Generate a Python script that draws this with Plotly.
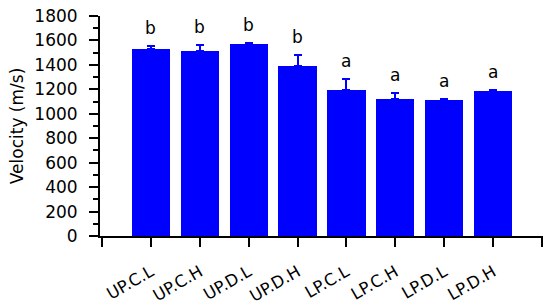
import plotly.graph_objects as go

groups = ['UP.C.L', 'UP.C.H', 'UP.D.L', 'UP.D.H', 'LP.C.L', 'LP.C.H', 'LP.D.L', 'LP.D.H']
velocity = [1530, 1514, 1571, 1394, 1197, 1121, 1115, 1184]
velocity_sd = [25, 51, 9, 87, 90, 47, 9, 13]
letters = ['b', 'b', 'b', 'b', 'a', 'a', 'a', 'a']

FONT = 'DejaVu Sans, sans-serif'
BLUE = '#0000FF'

positions = list(range(len(groups)))

fig = go.Figure()
fig.add_trace(go.Bar(
    x=positions,
    y=velocity,
    width=0.78,
    marker_color=BLUE,
    marker_line_width=0,
    error_y=dict(type='data', array=velocity_sd, symmetric=False,
                 arrayminus=[0] * len(groups),
                 color=BLUE, thickness=2, width=4),
    showlegend=False,
))

for x, v, sd, letter in zip(positions, velocity, velocity_sd, letters):
    fig.add_annotation(x=x, y=v + sd, text=letter, showarrow=False,
                       yanchor='bottom', yshift=6,
                       font=dict(family=FONT, size=17, color='black'))

fig.update_layout(
    width=550, height=306,
    margin=dict(l=100, r=7, t=16, b=70),
    paper_bgcolor='white', plot_bgcolor='white',
    font=dict(family=FONT, color='black'),
    bargap=0,
)
fig.update_xaxes(
    range=[-1.04, 8.02],
    tickvals=[-1] + positions + [8],
    ticktext=[''] + groups + [''],
    tickangle=-30,
    ticks='outside', ticklen=9, tickwidth=2, tickcolor='black',
    showline=True, linewidth=2, linecolor='black',
    showgrid=False, zeroline=False,
    tickfont=dict(size=16.5),
    ticklabelstandoff=9,
    automargin=False,
)
fig.update_yaxes(
    range=[0, 1800],
    tick0=0, dtick=200,
    ticks='outside', ticklen=9, tickwidth=2, tickcolor='black',
    minor=dict(dtick=100, ticks='outside', ticklen=5, tickwidth=2, tickcolor='black'),
    showline=True, linewidth=2, linecolor='black',
    showgrid=False, zeroline=False,
    tickfont=dict(size=17),
    ticklabelstandoff=8,
    title=dict(text='Velocity (m/s)', font=dict(size=17), standoff=6),
    automargin=False,
)

# drop the page's default body margin so the figure sits at the window's corner
fig.write_html('out.html', config={'displayModeBar': False},
               post_script="document.body.style.margin='0';")
